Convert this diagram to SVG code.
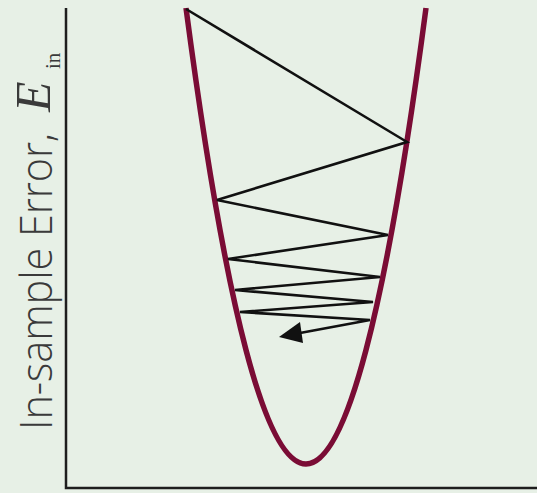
<svg xmlns="http://www.w3.org/2000/svg" width="537" height="493" viewBox="0 0 537 493">
<style>
.axis{stroke:#1e1e1e;stroke-width:2.5;fill:none}
.curve{stroke:#7a0c35;stroke-width:5.5;fill:none}
.path{stroke:#111;stroke-width:2.6;fill:none;stroke-linejoin:miter}
.lbl{font-family:"Open Sans","Liberation Sans",sans-serif;font-weight:300;fill:#3a3a3a}
.math{font-family:"Liberation Serif",serif;fill:#3a3a3a}
</style>
<rect width="537" height="493" fill="#e7f0e6"/>
<g id="axes">
<path class="axis" d="M66,8 V488 H537"/>
</g>
<g id="error-curve">
<path class="curve" d="M186,8 Q306,920 426,8"/>
</g>
<g id="connectors">
<polyline class="path" points="186,9 407,142 217,200 388,235 228,259 380,277 235,290 373,302 240,312 370,320 300,333"/>
<polygon points="279,337 300,322 303,343" fill="#111"/>
</g>
<g id="ylabel">
<text class="lbl" transform="translate(52,430) rotate(-90)" font-size="44" textLength="297" lengthAdjust="spacingAndGlyphs">In-sample Error,</text>
<text class="math" transform="translate(50,112) rotate(-90)" font-size="50" font-style="italic">E</text>
<text class="math" transform="translate(60,69) rotate(-90)" font-size="21">in</text>
</g>
</svg>
